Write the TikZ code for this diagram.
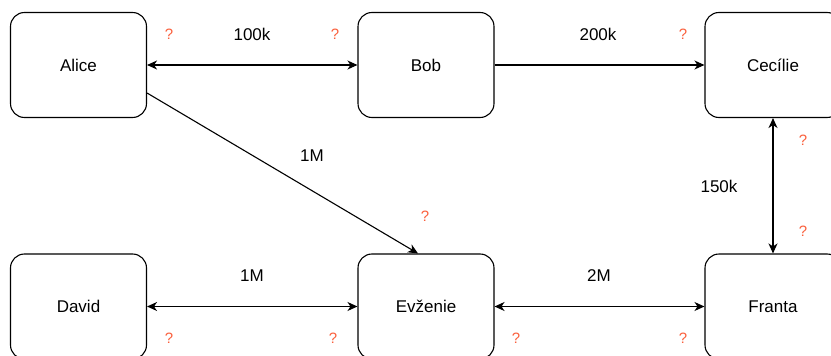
\documentclass[tikz,border=0pt]{standalone}
\usepackage{fontspec}
\setmainfont{Liberation Sans}
\usetikzlibrary{arrows.meta}
\definecolor{qcolor}{RGB}{250,95,60}
\tikzstyle{account} = [rectangle, rounded corners=14pt, draw=black, line width=1.1pt,
	minimum width=136pt, minimum height=105pt, font=\fontsize{17}{20}\selectfont]
\tikzstyle{amount} = [font=\fontsize{17}{20}\selectfont]
\tikzstyle{flow} = [line width=1.1pt, -{Stealth[length=10pt,width=9pt,inset=3pt]}]
\tikzstyle{twoway} = [line width=1.1pt, {Stealth[length=10pt,width=9pt,inset=3pt]}-{Stealth[length=10pt,width=9pt,inset=3pt]}]
\newcommand{\qm}[2]{\node [text=qcolor, font=\fontsize{15}{18}\selectfont] (#1) at (#2) {?};}

\begin{document}
\begin{tikzpicture}[x=1pt, y=-1pt]
			\useasboundingbox (0,0) rectangle (831,356);
			% accounts
			\node [account] (alice) at (78.5,65) {Alice};
			\node [account] (bob) at (426,65) {Bob};
			\node [account] (cecilie) at (773,65) {Cecílie};
			\node [account] (david) at (78.5,306.5) {David};
			\node [account] (evzenie) at (426,306.5) {Evženie};
			\node [account] (franta) at (773,306.5) {Franta};
			% channels
			\draw [twoway] (alice) -- (bob);
			\draw [flow] (bob) -- (cecilie);
			\draw [twoway] (cecilie) -- (franta);
			\draw [flow] ([yshift=-28pt]alice.east) -- ([xshift=-8pt]evzenie.north);
			\draw [twoway] (david) -- (evzenie);
			\draw [twoway] (evzenie) -- (franta);
			% amounts
			\node [amount] (ab) at (252,34) {100k};
			\node [amount] (bc) at (598,34) {200k};
			\node [amount] (cf) at (719,186) {150k};
			\node [amount] (ae) at (312,156) {1M};
			\node [amount] (de) at (252,276) {1M};
			\node [amount] (ef) at (599,276) {2M};
			% unknown balances
			\qm{qab1}{169,34}
			\qm{qab2}{335,34}
			\qm{qbc}{683,34}
			\qm{qcf1}{803,140}
			\qm{qcf2}{803,231}
			\qm{qae}{425,216}
			\qm{qde1}{169,338}
			\qm{qde2}{333,338}
			\qm{qef1}{516,338}
			\qm{qef2}{683,338}
		\end{tikzpicture}
\end{document}
